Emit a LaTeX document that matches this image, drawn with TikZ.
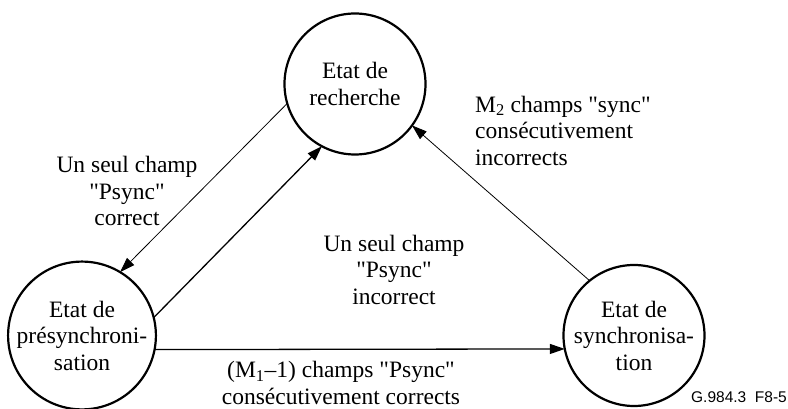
\documentclass[tikz,border=0pt]{standalone}
\usepackage{fontspec}
% serif face without TeX ligature mapping, so that " stays straight
\newfontfamily\figserif{Liberation Serif}
\newfontfamily\figsans{Liberation Sans}
\usetikzlibrary{arrows.meta}
\begin{document}
\begin{tikzpicture}[x=1pt,y=1pt,
  state/.style={circle, draw, line width=2.2pt, minimum size=141pt, inner sep=0pt,
    outer sep=0pt, align=center, font=\figserif\fontsize{23.5}{26.5}\selectfont},
  lbl/.style={align=center, inner sep=0pt, font=\figserif\fontsize{23.5}{26.5}\selectfont},
  thinlink/.style={line width=0.8pt, -{Triangle[length=15pt,width=10pt]}},
  link/.style={line width=1.3pt, -{Triangle[length=15pt,width=10pt]}}]
\useasboundingbox (0,0) rectangle (788,409);

% states
\node[state] (rech) at (355,325) {Etat de\\recherche};
\node[state] (pres) at (82,73.5) {Etat de\\présynchroni-\\sation};
\node[state] (sync) at (634,73.5) {Etat de\\synchronisa-\\tion};

% transitions
\draw[thinlink] (rech.196.7) -- (pres.59.9);
\draw[link] (pres.14.4) -- (rech.242.4);
\draw[thinlink] (sync.129.4) -- (rech.-36.6);
\draw[link] (pres.-11) -- (sync.191);

% transition labels
\node[lbl] (l1) at (127,218) {Un seul champ\\"Psync"\\correct};
\node[lbl] (l2) at (394,139.5) {Un seul champ\\"Psync"\\incorrect};
\node[lbl, anchor=west, align=left] (l3) at (475,278.5) {M\textsubscript{2} champs "sync"\\consécutivement\\incorrects};
\node[lbl] (l4) at (341,26) {(M\textsubscript{1}–1) champs "Psync"\\consécutivement corrects};

% figure reference
\node[anchor=base east, inner sep=0pt, font=\figsans\fontsize{15.5}{18}\selectfont] (ref) at (787,6) {G.984.3\ \ F8-5};
\end{tikzpicture}
\end{document}
